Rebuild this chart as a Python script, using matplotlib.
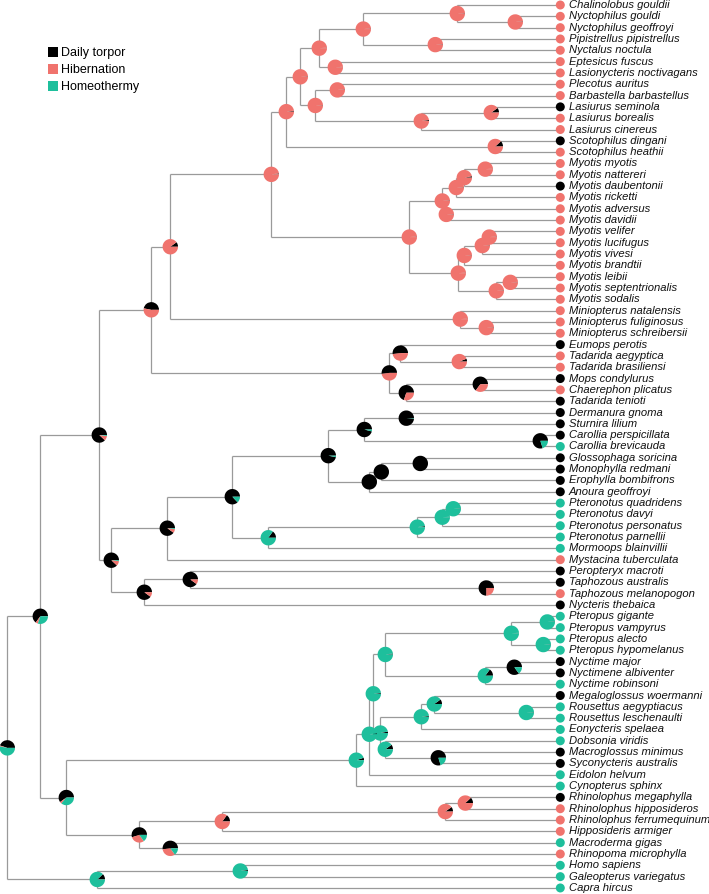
import matplotlib
matplotlib.use("Agg")
import matplotlib.pyplot as plt
import matplotlib.transforms as mtransforms
from matplotlib.patches import Wedge, Patch

plt.rcParams['font.family'] = ['Liberation Sans', 'DejaVu Sans']

# ---------------- data ----------------
tip_names = [
    "Chalinolobus gouldii", "Nyctophilus gouldi", "Nyctophilus geoffroyi",
    "Pipistrellus pipistrellus", "Nyctalus noctula", "Eptesicus fuscus",
    "Lasionycteris noctivagans", "Plecotus auritus", "Barbastella barbastellus",
    "Lasiurus seminola", "Lasiurus borealis", "Lasiurus cinereus",
    "Scotophilus dingani", "Scotophilus heathii", "Myotis myotis",
    "Myotis nattereri", "Myotis daubentonii", "Myotis ricketti",
    "Myotis adversus", "Myotis davidii", "Myotis velifer", "Myotis lucifugus",
    "Myotis vivesi", "Myotis brandtii", "Myotis leibii",
    "Myotis septentrionalis", "Myotis sodalis", "Miniopterus natalensis",
    "Miniopterus fuliginosus", "Miniopterus schreibersii", "Eumops perotis",
    "Tadarida aegyptica", "Tadarida brasiliensi", "Mops condylurus",
    "Chaerephon plicatus", "Tadarida tenioti", "Dermanura gnoma",
    "Sturnira lilium", "Carollia perspicillata", "Carollia brevicauda",
    "Glossophaga soricina", "Monophylla redmani", "Erophylla bombifrons",
    "Anoura geoffroyi", "Pteronotus quadridens", "Pteronotus davyi",
    "Pteronotus personatus", "Pteronotus parnellii", "Mormoops blainvillii",
    "Mystacina tuberculata", "Peropteryx macroti", "Taphozous australis",
    "Taphozous melanopogon", "Nycteris thebaica", "Pteropus gigante",
    "Pteropus vampyrus", "Pteropus alecto", "Pteropus hypomelanus",
    "Nyctime major", "Nyctimene albiventer", "Nyctime robinsoni",
    "Megaloglossus woermanni", "Rousettus aegyptiacus", "Rousettus leschenaulti",
    "Eonycteris spelaea", "Dobsonia viridis", "Macroglossus minimus",
    "Syconycteris australis", "Eidolon helvum", "Cynopterus sphinx",
    "Rhinolophus megaphylla", "Rhinolophus hipposideros",
    "Rhinolophus ferrumequinum", "Hipposideris armiger", "Macroderma gigas",
    "Rhinopoma microphylla", "Homo sapiens", "Galeopterus variegatus",
    "Capra hircus",
]
# D = daily torpor, H = hibernation, M = homeothermy
tip_states = list(
    "HHHHHHHHH" "DHH" "DH" "HHDHHHHHHHHHH" "HHH" "DHHDHD" "DD" "DM" "DDDD"
    "MMMMM" "H" "DDHD" "MMMM" "DDM" "DMMMMDDMM" "DHHHMH" "MMM"
)
tip_depth = 553

# internal nodes: id, children (tip index or node id), depth from root,
# ancestral state probabilities (torpor, hibernation, homeothermy)
node_ids = [
    "B", "A", "C", "D", "E", "F", "G", "H", "I", "J", "K", "L", "M",
    "N1", "N2", "N3", "N4", "N5", "N6", "N7", "N8", "N9", "N10", "N11", "N12",
    "O", "P1", "P2", "Q", "R1", "R2", "R3", "R4", "R5", "S",
    "T0", "Tc", "T1", "Tg", "T2", "T3", "T4", "U1", "U2", "U3", "U4",
    "V1", "V2", "Wt", "W1", "W2", "X1", "Y",
    "Z1a", "Z1b", "Z1", "Zn", "Z2", "Z3", "Zr", "Z4", "Z5", "Zm", "Zd",
    "Z6", "Z7", "Z8", "Z9", "Rh1", "Rh2", "Rh3", "Rm", "Rh4", "Yp", "Bat",
    "Og1", "Og2", "Root",
]
node_children = [
    [1, 2], [0, "B"], [3, 4], ["A", "C"], [5, 6], ["D", "E"], [7, 8],
    [9, 10], ["H", 11], ["G", "I"], ["F", "J"], [12, 13], ["K", "L"],
    [14, 15], ["N1", 16], ["N2", 17], [18, 19], ["N3", "N4"], [20, 21],
    ["N6", 22], ["N7", 23], [24, 25], ["N9", 26], ["N8", "N10"],
    ["N5", "N11"], ["M", "N12"], [28, 29], [27, "P1"], ["O", "P2"],
    [31, 32], [30, "R1"], [33, 34], ["R3", 35], ["R2", "R4"], ["Q", "R5"],
    [36, 37], [38, 39], ["T0", "Tc"], [40, 41], ["Tg", 42], ["T2", 43],
    ["T1", "T3"], [44, 45], ["U1", 46], ["U2", 47], ["U3", 48],
    ["T4", "U4"], ["V1", 49], [51, 52], [50, "Wt"], ["W1", 53],
    ["V2", "W2"], ["S", "X1"],
    [54, 55], [56, 57], ["Z1a", "Z1b"], [58, 59], ["Zn", 60], ["Z1", "Z2"],
    [62, 63], [61, "Zr"], ["Z4", 64], [66, 67], [65, "Zm"], ["Z5", "Zd"],
    ["Z3", "Z6"], ["Z7", 68], ["Z8", 69], [70, 71], ["Rh1", 72],
    ["Rh2", 73], [74, 75], ["Rh3", "Rm"], ["Z9", "Rh4"], ["Y", "Yp"],
    [76, 77], ["Og1", 78], ["Bat", "Og2"],
]
node_depth = [
    508, 450, 428, 356, 328, 312, 330, 484, 414, 308, 293, 488, 279,
    478, 457, 449, 439, 435, 482, 475, 457, 503, 489, 451, 402,
    264, 479, 453, 163, 452, 393, 473, 399, 382, 144,
    399, 533, 357, 413, 374, 362, 321, 446, 435, 410, 261,
    225, 160, 479, 183, 137, 104, 92,
    540, 536, 504, 507, 478, 378, 519, 427, 414, 431, 378,
    373, 366, 362, 349, 458, 438, 215, 163, 132, 59, 33,
    233, 90, 0,
]
p_torpor = [
    .01, .01, .01, .01, .01, .01, .01, .10, .02, .01, .01, .12, .02,
    .01, .03, .01, .01, .01, .01, .01, .01, .01, .01, .01, .01,
    .02, .01, .01, .10, .06, .52, .65, .70, .52, .47,
    .99, .80, .96, 1.0, 1.0, 1.0, .97, .01, .01, .02, .15,
    .87, .90, .75, .90, .90, .88, .88,
    .01, .01, .01, .85, .15, .02, .01, .10, .02, .80, .10,
    .03, .02, .02, .05, .12, .10, .15, .52, .55, .60, .65,
    .02, .12, .45,
]
p_hibern = [
    .99, .99, .99, .99, .99, .99, .99, .90, .98, .99, .99, .88, .98,
    .99, .97, .99, .99, .99, .99, .99, .99, .99, .99, .99, .99,
    .98, .99, .99, .90, .94, .48, .35, .30, .48, .53,
    0, 0, 0, 0, 0, 0, 0, 0, 0, 0, 0,
    0, .08, .25, .10, .10, .10, .10,
    0, 0, 0, 0, 0, 0, 0, 0, 0, 0, 0,
    0, 0, 0, 0, .88, .90, .85, .33, .30, .04, .05,
    0, 0, .02,
]
p_homeo = [
    0, 0, 0, 0, 0, 0, 0, 0, 0, 0, 0, 0, 0,
    0, 0, 0, 0, 0, 0, 0, 0, 0, 0, 0, 0,
    0, 0, 0, 0, 0, 0, 0, 0, 0, 0,
    .01, .20, .04, 0, 0, 0, .03, .99, .99, .98, .85,
    .13, .02, 0, 0, 0, .02, .02,
    .99, .99, .99, .15, .85, .98, .99, .90, .98, .20, .90,
    .97, .98, .98, .95, 0, 0, 0, .15, .15, .36, .30,
    .98, .88, .53,
]
legend_labels = ["Daily torpor", "Hibernation", "Homeothermy"]
state_codes = ["D", "H", "M"]
state_colors = ["#000000", "#F0736D", "#1EBF9C"]

# ---------------- layout ----------------
W, H = 709, 894
fig = plt.figure(figsize=(W / 100, H / 100), dpi=100)
ax = fig.add_axes([0, 0, 1, 1])
ax.set_xlim(-7.3, W - 7.3)
row = 11.32
top = 5.0
ax.set_ylim((H - top) / row, -top / row)
ax.axis("off")

pos = {}
for i in range(len(tip_names)):
    pos[i] = (tip_depth, float(i))
for nid, ch, d in zip(node_ids, node_children, node_depth):
    ys = [pos[c][1] for c in ch]
    pos[nid] = (d, (min(ys) + max(ys)) / 2)

branch_col = "#9A9A9A"
lw = 0.9
for nid, ch in zip(node_ids, node_children):
    x, y = pos[nid]
    ys = [pos[c][1] for c in ch]
    ax.plot([x, x], [min(ys), max(ys)], color=branch_col, lw=lw,
            solid_capstyle="butt", zorder=1)
    for c in ch:
        cx, cy = pos[c]
        ax.plot([x, cx], [cy, cy], color=branch_col, lw=lw,
                solid_capstyle="butt", zorder=1)

# tips
tip_cols = [state_colors[state_codes.index(s)] for s in tip_states]
ax.scatter([pos[i][0] for i in range(len(tip_names))],
           [pos[i][1] for i in range(len(tip_names))],
           s=42, c=tip_cols, linewidths=0, zorder=3)
for i, name in enumerate(tip_names):
    ax.annotate(name, (pos[i][0], pos[i][1]), xytext=(6.3, 0),
                textcoords="offset points", va="center", ha="left",
                fontsize=8.1, style="italic", color="#111111")

# pies
r_in = 0.077
for k, nid in enumerate(node_ids):
    x, y = pos[nid]
    trans = fig.dpi_scale_trans + mtransforms.ScaledTranslation(x, y, ax.transData)
    fr = [p_torpor[k], p_hibern[k], p_homeo[k]]
    tot = sum(fr)
    a0 = 0.0
    for f, col in zip(fr, state_colors):
        if f <= 0:
            continue
        a1 = a0 + 360.0 * f / tot
        ax.add_patch(Wedge((0, 0), r_in, a0, a1, facecolor=col,
                           edgecolor="none", transform=trans, zorder=4 + k * 0.001))
        a0 = a1

handles = [Patch(facecolor=c, edgecolor="none") for c in state_colors]
fig.legend(handles=handles, labels=legend_labels, loc="upper left",
           bbox_to_anchor=(0.06, 0.953), frameon=False, fontsize=9.0,
           handlelength=0.8, handleheight=0.8, handletextpad=0.3,
           labelspacing=0.4, borderaxespad=0)

fig.savefig("out.png", dpi=100)
